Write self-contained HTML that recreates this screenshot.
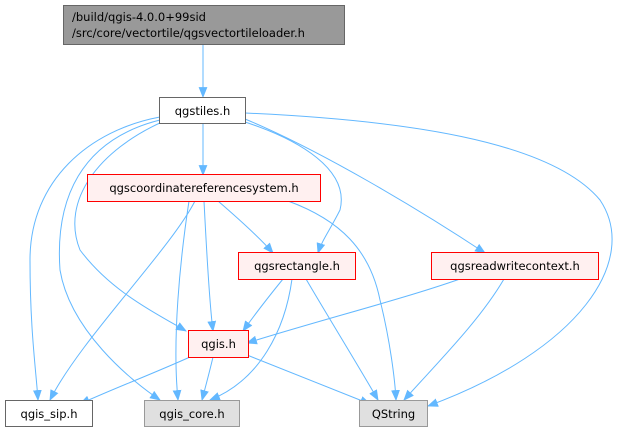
<!DOCTYPE html>
<html><head><style>body{margin:0;background:#fff}svg{display:block}text{font-family:"DejaVu Sans","Liberation Sans",sans-serif;font-size:11.5px}</style></head>
<body>
<svg width="627" height="434" viewBox="0 0 627 434" xmlns="http://www.w3.org/2000/svg">
<defs><marker id="a" viewBox="0 0 10 10" refX="9" refY="5" markerWidth="11" markerHeight="11" markerUnits="userSpaceOnUse" orient="auto"><path d="M0,1 L10,5 L0,9 z" fill="#63b8ff"/></marker></defs>
<g fill="none" stroke="#63b8ff" stroke-width="1" marker-end="url(#a)">
<path d="M203,44 V97"/>
<path d="M203,123 V175"/>
<path d="M160,117 C90,130 30,180 30,260 C30,330 36,370 38,400"/>
<path d="M160,120 C80,140 55,200 60,270 C70,330 130,380 160,400"/>
<path d="M162,122 C100,150 60,200 80,250 C110,290 150,310 186,331"/>
<path d="M245,122 C300,140 350,170 340,210 C330,230 322,240 318,253"/>
<path d="M245,119 C320,150 420,210 485,253"/>
<path d="M245,113 C400,120 550,140 600,200 C640,260 580,350 428,406"/>
<path d="M195,201 C170,250 80,340 50,400"/>
<path d="M189,201 C180,260 172,340 178,400"/>
<path d="M204,201 C206,240 209,300 213,331"/>
<path d="M218,201 C240,220 260,238 273,253"/>
<path d="M288,201 C340,220 370,250 380,300 C390,340 395,380 396,400"/>
<path d="M283,279 C270,295 258,310 243,331"/>
<path d="M292,279 C285,330 260,380 210,400"/>
<path d="M306,279 C330,320 355,360 378,400"/>
<path d="M460,279 C400,300 320,320 247,343"/>
<path d="M504,279 C480,320 440,360 404,400"/>
<path d="M190,357 C150,375 110,390 80,404"/>
<path d="M213,357 C210,370 206,385 202,400"/>
<path d="M247,355 C290,372 330,388 370,404"/>
</g>
<rect x="63.5" y="5.5" width="281" height="39" fill="#999" stroke="#666"/>
<text x="72" y="21">/build/qgis-4.0.0+99sid</text>
<text x="72" y="37">/src/core/vectortile/qgsvectortileloader.h</text>
<rect x="159.5" y="97.5" width="86" height="26" fill="#fff" stroke="#666"/>
<text x="202.5" y="115" text-anchor="middle">qgstiles.h</text>
<rect x="87.5" y="174.5" width="233" height="27" fill="#fff0f0" stroke="#f00"/>
<text x="204" y="192" text-anchor="middle">qgscoordinatereferencesystem.h</text>
<rect x="238.5" y="252.5" width="117" height="27" fill="#fff0f0" stroke="#f00"/>
<text x="297" y="270" text-anchor="middle">qgsrectangle.h</text>
<rect x="431.5" y="252.5" width="167" height="27" fill="#fff0f0" stroke="#f00"/>
<text x="515" y="270" text-anchor="middle">qgsreadwritecontext.h</text>
<rect x="188.5" y="330.5" width="60" height="27" fill="#fff0f0" stroke="#f00"/>
<text x="218.5" y="348" text-anchor="middle">qgis.h</text>
<rect x="5.5" y="400.5" width="87" height="26" fill="#fff" stroke="#666"/>
<text x="49" y="418" text-anchor="middle">qgis_sip.h</text>
<rect x="144.5" y="400.5" width="95" height="26" fill="#e0e0e0" stroke="#999"/>
<text x="192" y="418" text-anchor="middle">qgis_core.h</text>
<rect x="359.5" y="400.5" width="68" height="26" fill="#e0e0e0" stroke="#999"/>
<text x="393.5" y="418" text-anchor="middle">QString</text>
</svg>
</body></html>
